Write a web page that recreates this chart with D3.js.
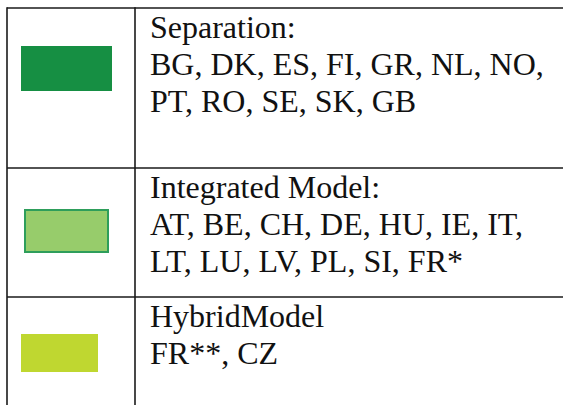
<!DOCTYPE html>
<html>
<head>
<meta charset="utf-8">
<script src="https://cdn.jsdelivr.net/npm/d3@7"></script>
<style>
  html, body { margin: 0; padding: 0; background: #fff; }
  svg { display: block; }
  text { font-family: "Liberation Serif", "Times New Roman", Times, serif; }
</style>
</head>
<body>
<svg id="chart" width="563" height="405"></svg>
<script>
// ---- data ----
const categories = ["Separation", "Integrated Model", "HybridModel"];
const titles = ["Separation:", "Integrated Model:", "HybridModel"];
const countryLines = [
  ["BG, DK, ES, FI, GR, NL, NO,", "PT, RO, SE, SK, GB"],
  ["AT, BE, CH, DE, HU, IE, IT,", "LT, LU, LV, PL, SI, FR*"],
  ["FR**, CZ"]
];
const fillColors = ["#168f43", "#97cc6b", "#bfd730"];
const strokeColors = ["none", "#2e9e5b", "none"];

// ---- layout ----
const W = 563, H = 405;
const tableLeft = 7, tableTop = 8, divX = 135;
const rowTops = [8, 168, 297];
const swatches = [
  {x: 21, y: 46, w: 91, h: 45},
  {x: 25, y: 210, w: 83, h: 42},
  {x: 21, y: 334, w: 77, h: 38}
];
const lineH = 37, firstBase = 30, textX = 150, fontSize = 32;

const svg = d3.select("#chart");
const color = d3.scaleOrdinal().domain(categories).range(fillColors);
const stroke = d3.scaleOrdinal().domain(categories).range(strokeColors);

const lineColor = "#1a1a1a";
svg.selectAll("line.h").data(rowTops).enter().append("line")
  .attr("x1", tableLeft).attr("x2", W)
  .attr("y1", d => d).attr("y2", d => d)
  .attr("stroke", lineColor).attr("stroke-width", 1.6);
svg.selectAll("line.v").data([tableLeft, divX]).enter().append("line")
  .attr("x1", d => d).attr("x2", d => d)
  .attr("y1", tableTop - 0.8).attr("y2", H)
  .attr("stroke", lineColor).attr("stroke-width", 1.6);

const rows = svg.selectAll("g.row").data(categories).enter().append("g").attr("class", "row");

rows.append("rect")
  .attr("x", (d, i) => swatches[i].x)
  .attr("y", (d, i) => swatches[i].y)
  .attr("width", (d, i) => swatches[i].w)
  .attr("height", (d, i) => swatches[i].h)
  .attr("fill", d => color(d))
  .attr("stroke", d => stroke(d))
  .attr("stroke-width", 2);

rows.each(function(d, i) {
  const lines = [titles[i]].concat(countryLines[i]);
  d3.select(this).selectAll("text").data(lines).enter().append("text")
    .attr("x", textX)
    .attr("y", (t, j) => rowTops[i] + firstBase + j * lineH)
    .style("font-size", fontSize + "px")
    .attr("fill", "#111")
    .text(t => t);
});
</script>
</body>
</html>
